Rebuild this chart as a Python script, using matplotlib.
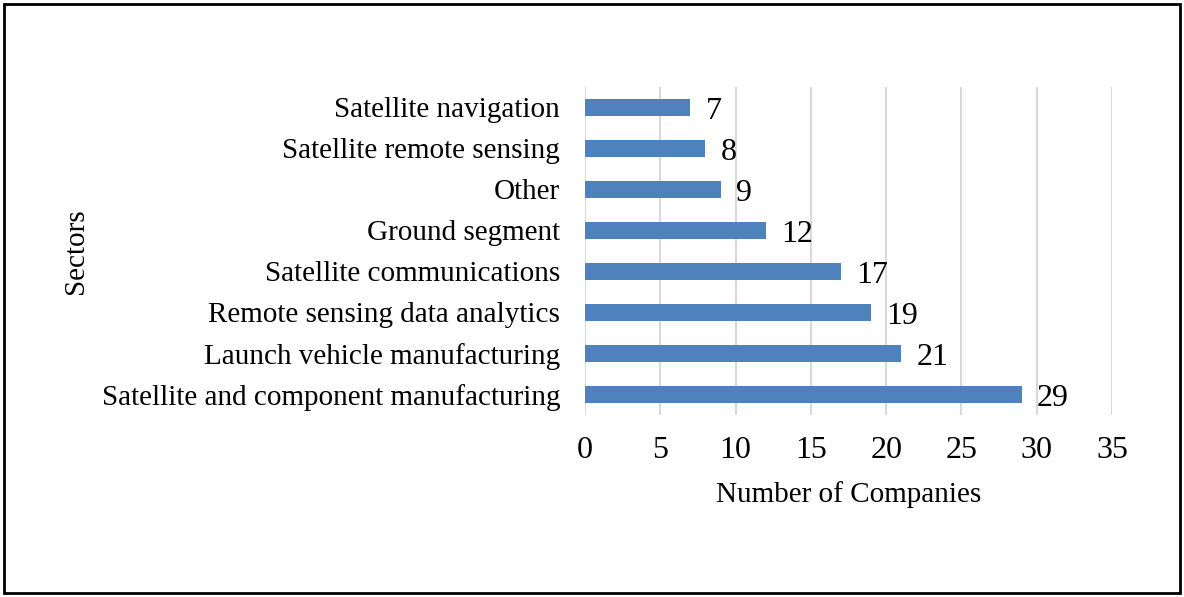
import matplotlib.pyplot as plt
from matplotlib.patches import Rectangle

plt.rcParams['font.family'] = ['Liberation Serif', 'DejaVu Serif']

sectors = ['Satellite and component manufacturing', 'Launch vehicle manufacturing',
           'Remote sensing data analytics', 'Satellite communications',
           'Ground segment', 'Other', 'Satellite remote sensing', 'Satellite navigation']
companies = [29, 21, 19, 17, 12, 9, 8, 7]
x_ticks = [0, 5, 10, 15, 20, 25, 30, 35]

bar_color = '#4F81BD'
grid_color = '#D9D9D9'
f_size = 21
num_size = 23

fig = plt.figure(figsize=(11.84, 5.97), dpi=100)
ax = fig.add_axes([0.4941, 0.3049, 0.4451, 0.5494])

bars = ax.barh(range(len(sectors)), companies, height=0.4, color=bar_color, zorder=3)
for b, v in zip(bars, companies):
    ax.annotate(str(v), (b.get_width(), b.get_y() + b.get_height() / 2),
                xytext=(11, -3), textcoords='offset points',
                ha='left', va='center', fontsize=num_size)

ax.set_xlim(0, 35)
ax.set_ylim(-0.5, len(sectors) - 0.5)
ax.set_xticks(x_ticks)
ax.set_yticks(range(len(sectors)))
ax.set_yticklabels(sectors)
ax.tick_params(axis='y', length=0, labelsize=f_size, pad=18)
ax.tick_params(axis='x', length=0, labelsize=num_size, pad=15)
ax.grid(axis='x', color=grid_color, linewidth=1.5, zorder=0)
for s in ax.spines.values():
    s.set_visible(False)

ax.set_xlabel('Number of Companies', fontsize=f_size, labelpad=12)
fig.text(0.064, 0.58, 'Sectors', rotation=90, fontsize=f_size, ha='center', va='center')

fig.patches.append(Rectangle((0.003, 0.006), 0.994, 0.988, transform=fig.transFigure,
                             fill=False, edgecolor='black', linewidth=2))

fig.savefig('out.png', dpi=100)
